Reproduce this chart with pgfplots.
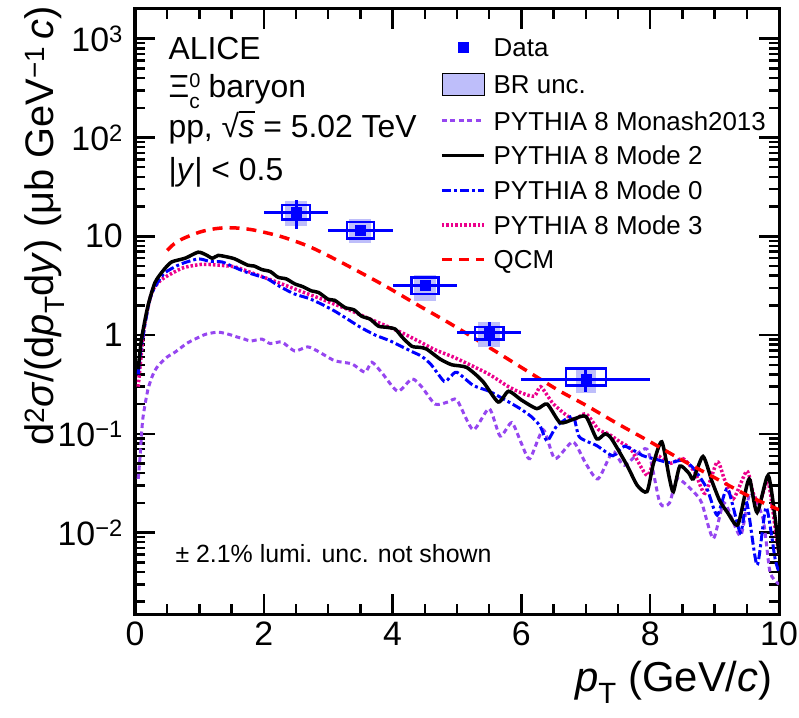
\documentclass[border=0pt]{standalone}
\usepackage{pgfplots}
\usepackage{pgfplotstable}
\pgfplotsset{compat=1.18}
\usepackage{fontspec}
\setmainfont{Liberation Sans}
\definecolor{monash}{RGB}{150,70,240}
\definecolor{brfill}{RGB}{190,190,250}
\pgfplotsset{
  leg line/.style={legend image code/.code={\draw[##1] (0bp,0bp) -- (42bp,0bp);}},
  leg mark/.style={legend image code/.code={\draw[##1] plot coordinates {(21bp,0bp)};}},
  leg box/.style={legend image code/.code={\fill[##1] (0bp,-11bp) rectangle (42bp,11bp);}},
}
\pgfplotstableread{
x y
0.5 7.2
0.6 8.3
0.75 9.5
1.0 11.0
1.2 11.8
1.4 12.2
1.6 12.1
1.8 11.7
2.0 11.0
2.3 9.8
2.7 7.9
3.1 5.9
3.5 4.3
3.9 3.1
4.4 2.0
4.9 1.3
5.5 0.75
6.2 0.39
6.6 0.27
7.0 0.195
7.5 0.126
8.0 0.083
8.5 0.054
9.0 0.036
9.5 0.024
10.0 0.017
}\qcm
\pgfplotstableread{
x y
0.05 0.45
0.1 0.9
0.2 1.96
0.31 3.4
0.45 4.6
0.57 5.5
0.78 6.0
0.98 6.9
1.1 6.5
1.2 6.0
1.29 6.4
1.42 6.2
1.55 5.9
1.75 5.1
1.85 5.0
1.97 4.6
2.1 4.4
2.22 3.85
2.35 3.7
2.48 3.3
2.6 3.1
2.74 2.8
2.85 2.7
3.0 2.3
3.1 2.25
3.26 1.9
3.4 1.8
3.52 1.55
3.65 1.45
3.78 1.23
3.9 1.2
4.04 1.15
4.15 0.95
4.3 0.77
4.43 0.75
4.53 0.72
4.74 0.57
4.92 0.5
5.15 0.47
5.4 0.34
5.64 0.21
5.8 0.27
6.0 0.22
6.24 0.18
6.4 0.2
6.6 0.13
6.8 0.14
7.0 0.15
7.17 0.089
7.3 0.1
7.4 0.089
7.64 0.048
7.8 0.03
7.95 0.026
8.05 0.05
8.18 0.083
8.3 0.035
8.36 0.026
8.46 0.047
8.6 0.04
8.67 0.035
8.82 0.059
8.96 0.033
9.08 0.021
9.2 0.016
9.36 0.012
9.5 0.03
9.55 0.034
9.66 0.016
9.83 0.038
9.94 0.014
10.0 0.006
}\modetwo
\pgfplotstableread{
x y
0.05 0.4
0.1 0.78
0.23 2.3
0.35 3.4
0.47 4.3
0.7 5.2
0.98 5.9
1.15 5.6
1.35 5.5
1.5 5.0
1.7 4.4
1.9 4.0
2.06 3.7
2.25 3.1
2.48 2.6
2.7 2.35
2.9 2.05
3.1 1.75
3.3 1.45
3.5 1.2
3.73 1.0
3.95 0.88
4.15 0.76
4.3 0.68
4.45 0.61
4.6 0.5
4.8 0.34
4.9 0.38
5.0 0.42
5.25 0.31
5.5 0.27
5.75 0.22
5.98 0.18
6.15 0.15
6.29 0.12
6.4 0.085
6.55 0.12
6.8 0.15
6.9 0.093
7.17 0.076
7.42 0.06
7.6 0.075
7.89 0.06
8.1 0.055
8.3 0.051
8.5 0.054
8.67 0.045
8.88 0.028
9.04 0.015
9.2 0.028
9.4 0.010
9.5 0.02
9.66 0.0047
9.8 0.018
9.94 0.0054
10.0 0.004
}\modezero
\pgfplotstableread{
x y
0.05 0.3
0.08 0.49
0.15 1.3
0.26 2.7
0.38 3.5
0.51 4.0
0.75 4.8
1.04 5.2
1.3 5.1
1.55 4.9
1.8 4.3
2.07 3.7
2.33 3.2
2.59 2.75
2.85 2.38
3.1 2.05
3.36 1.76
3.62 1.48
3.9 1.24
4.15 1.05
4.4 0.87
4.66 0.71
4.94 0.6
5.2 0.5
5.5 0.4
5.8 0.3
6.0 0.26
6.2 0.24
6.3 0.3
6.5 0.2
6.8 0.14
7.0 0.16
7.2 0.11
7.35 0.1
7.53 0.083
7.7 0.07
7.95 0.038
8.1 0.06
8.3 0.05
8.51 0.056
8.7 0.04
8.85 0.025
9.04 0.052
9.15 0.035
9.29 0.022
9.5 0.042
9.6 0.025
9.7 0.02
9.83 0.033
9.95 0.01
10.0 0.006
}\modethree
\pgfplotstableread{
x y
0.05 0.035
0.08 0.06
0.12 0.14
0.2 0.28
0.28 0.4
0.36 0.49
0.5 0.6
0.62 0.67
0.8 0.82
0.93 0.91
1.1 1.02
1.29 1.07
1.45 1.02
1.6 0.95
1.7 0.91
1.8 0.87
1.97 0.91
2.1 0.82
2.28 0.85
2.48 0.69
2.68 0.76
2.85 0.68
3.1 0.55
3.37 0.51
3.57 0.42
3.68 0.53
3.84 0.41
4.08 0.27
4.3 0.36
4.45 0.3
4.66 0.2
4.86 0.21
5.0 0.22
5.25 0.11
5.5 0.18
5.67 0.095
5.85 0.13
6.0 0.08
6.13 0.056
6.34 0.11
6.52 0.056
6.8 0.083
7.0 0.05
7.19 0.035
7.42 0.066
7.6 0.048
7.95 0.07
8.15 0.02
8.3 0.02
8.42 0.035
8.67 0.026
8.8 0.02
8.98 0.0087
9.15 0.02
9.4 0.0093
9.55 0.025
9.75 0.014
9.86 0.004
10.0 0.003
}\monash
\pgfplotstableread{
x y ex eyp eym
2.5 17.5 0.5 5.6 5.7
3.5 11.5 0.5 1.0 1.0
4.5 3.2 0.5 0.35 0.35
5.5 1.06 0.5 0.29 0.28
7.0 0.354 1.0 0.11 0.09
}\data
\begin{document}
\begin{tikzpicture}
\begin{axis}[
  at={(135bp,104bp)}, anchor=south west,
  scale only axis, width=644bp, height=605bp,
  clip mode=individual,
  xmin=0, xmax=10, ymode=log, ymin=1.5e-3, ymax=2000,
  axis line style={line width=3bp},
  tick style={line width=2.5bp, black},
  major tick length=20bp, minor tick length=10bp,
  tick align=inside,
  xtick={0,2,4,6,8,10}, minor x tick num=3,
  xticklabels={0,2,4,6,8,10},
  ytick={0.01,0.1,1,10,100,1000},
  yticklabels={10\textsuperscript{−2},10\textsuperscript{−1},1,10,10\textsuperscript{2},10\textsuperscript{3}},
  minor ytick={0.002,0.003,0.004,0.005,0.006,0.007,0.008,0.009,0.02,0.03,0.04,0.05,0.06,0.07,0.08,0.09,0.2,0.3,0.4,0.5,0.6,0.7,0.8,0.9,2,3,4,5,6,7,8,9,20,30,40,50,60,70,80,90,200,300,400,500,600,700,800,900,2000},
  tick label style={font=\fontsize{34}{40}\selectfont, inner sep=0pt},
  xticklabel style={yshift=-8bp},
  yticklabel style={xshift=-12bp},
  legend style={at={(rel axis cs:0.4736,0.952)}, anchor=north west, draw=none, fill=none, inner sep=0pt,
    font=\fontsize{26}{31}\selectfont, row sep=16bp, column sep=8bp,
    nodes={inner sep=0pt, text height=18.7bp, text depth=0bp}},
  legend cell align=left,
]
\addlegendimage{leg mark, only marks, mark=square*, blue, mark size=5bp}
\addlegendentry{Data}
\addlegendimage{leg box, fill=brfill}
\addlegendentry{BR unc.}
\addlegendimage{leg line, monash, line width=3bp, dash pattern=on 5bp off 3.5bp}
\addlegendentry{PYTHIA 8 Monash2013}
\addlegendimage{leg line, black, line width=3.5bp}
\addlegendentry{PYTHIA 8 Mode 2}
\addlegendimage{leg line, blue, line width=3bp, dash pattern=on 9bp off 3bp on 3bp off 3bp}
\addlegendentry{PYTHIA 8 Mode 0}
\addlegendimage{leg line, magenta, line width=3.5bp, dash pattern=on 2.5bp off 2bp}
\addlegendentry{PYTHIA 8 Mode 3}
\addlegendimage{leg line, red, line width=3.5bp, dash pattern=on 10bp off 7bp}
\addlegendentry{QCM}

\addplot[forget plot, monash, line width=3bp, dash pattern=on 5bp off 3.5bp, smooth, tension=0.4] table {\monash};
\addplot[forget plot, magenta, line width=3.5bp, dash pattern=on 2.5bp off 2bp, smooth, tension=0.4] table {\modethree};
\addplot[forget plot, blue, line width=3bp, dash pattern=on 9bp off 3bp on 3bp off 3bp, smooth, tension=0.4] table {\modezero};
\addplot[forget plot, black, line width=3.5bp, smooth, tension=0.4] table {\modetwo};
\addplot[forget plot, red, line width=3.5bp, dash pattern=on 10bp off 7bp, smooth] table {\qcm};

% BR uncertainty shading
\addplot[forget plot, fill=brfill, draw=none] coordinates {(2.33,12.6) (2.67,12.6) (2.67,22.6) (2.33,22.6)} -- cycle;
\addplot[forget plot, fill=brfill, draw=none] coordinates {(3.33,8.5) (3.67,8.5) (3.67,15.1) (3.33,15.1)} -- cycle;
\addplot[forget plot, fill=brfill, draw=none] coordinates {(4.33,2.22) (4.67,2.22) (4.67,4.04) (4.33,4.04)} -- cycle;
\addplot[forget plot, fill=brfill, draw=none] coordinates {(5.33,0.76) (5.67,0.76) (5.67,1.36) (5.33,1.36)} -- cycle;
\addplot[forget plot, fill=brfill, draw=none] coordinates {(6.84,0.26) (7.16,0.26) (7.16,0.46) (6.84,0.46)} -- cycle;
% systematic boxes
\addplot[forget plot, blue, line width=2.5bp, fill=none] coordinates {(2.28,14.8) (2.72,14.8) (2.72,20.8) (2.28,20.8)} -- cycle;
\addplot[forget plot, blue, line width=2.5bp, fill=none] coordinates {(3.29,9.5) (3.71,9.5) (3.71,13.9) (3.29,13.9)} -- cycle;
\addplot[forget plot, blue, line width=2.5bp, fill=none] coordinates {(4.29,2.6) (4.71,2.6) (4.71,3.83) (4.29,3.83)} -- cycle;
\addplot[forget plot, blue, line width=2.5bp, fill=none] coordinates {(5.28,0.90) (5.72,0.90) (5.72,1.21) (5.28,1.21)} -- cycle;
\addplot[forget plot, blue, line width=2.5bp, fill=none] coordinates {(6.69,0.31) (7.31,0.31) (7.31,0.46) (6.69,0.46)} -- cycle;
% data with stat
\addplot[forget plot, blue, only marks, mark=square*, mark size=5bp,
  error bars/.cd, x dir=both, x explicit, y dir=both, y explicit, error mark=none,
  error bar style={line width=3bp, blue}]
  table[x=x, y=y, x error=ex, y error plus=eyp, y error minus=eym] {\data};

\node[anchor=base west, font=\fontsize{32}{38}\selectfont] at (rel axis cs:0.0466,0.9165) {ALICE};
\node[anchor=base west, font=\fontsize{32}{38}\selectfont] at (rel axis cs:0.0466,0.8545) {Ξ\rlap{\raisebox{10bp}{\fontsize{20}{20}\selectfont 0}}\raisebox{-11bp}{\fontsize{21}{21}\selectfont c} baryon};
\node[anchor=base west, font=\fontsize{32}{38}\selectfont] at (rel axis cs:0.0466,0.787) {pp, √\kern-0.02em\rlap{\rule[0.78em]{0.5em}{0.05em}}\textit{s} = 5.02 TeV};
\node[anchor=base west, font=\fontsize{32}{38}\selectfont] at (rel axis cs:0.0466,0.717) {|\textit{y}| < 0.5};
\node[anchor=base west, font=\fontsize{25}{30}\selectfont] at (rel axis cs:0.0575,0.0843) {± 2.1\% lumi. unc. not shown};
\node[anchor=base east, font=\fontsize{42}{50}\selectfont] at (rel axis cs:0.9953,-0.1289) {\textit{p}\textsubscript{T} (GeV/\textit{c})};
\node[rotate=90, anchor=base east, font=\fontsize{40}{48}\selectfont] at (rel axis cs:-0.1258,1.0099) {d\textsuperscript{2}\textit{σ}/(d\textit{p}\textsubscript{T}d\textit{y}) (μb GeV\textsuperscript{−1}\,\textit{c})};
\end{axis}
\pgfresetboundingbox
\path[use as bounding box] (0,0) rectangle (799bp,718bp);
\end{tikzpicture}
\end{document}
